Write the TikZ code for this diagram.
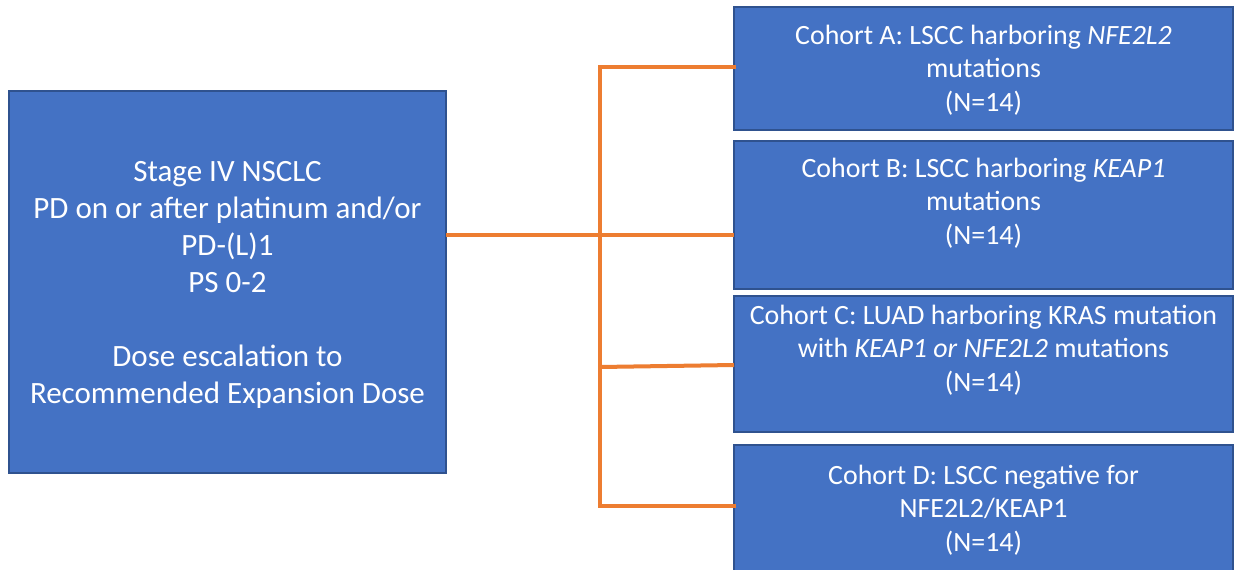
\documentclass[tikz,border=0pt]{standalone}
\usepackage{fontspec}
\setmainfont{Carlito}
\definecolor{boxblue}{HTML}{4472C4}
\definecolor{boxedge}{HTML}{2F528F}
\definecolor{conn}{HTML}{ED7D31}
\begin{document}
\begin{tikzpicture}[x=1pt,y=-1pt,
  box/.style={draw=boxedge, line width=1.5pt, fill=boxblue, inner sep=0pt, outer sep=0pt},
  txt/.style={text=white, align=center, inner sep=0pt, font=\fontsize{27.9}{33.5}\selectfont},
  bigtxt/.style={text=white, align=center, inner sep=0pt, font=\fontsize{31}{37}\selectfont},
  link/.style={draw=conn, line width=4pt}]
\useasboundingbox (0,0) rectangle (1235,570);
\clip (0,0) rectangle (1235,570);
\fill[white] (0,0) rectangle (1235,570);
% boxes
\node[box, minimum width=437pt, minimum height=382pt] (L) at (227.5,282) {};
\node[box, minimum width=499pt, minimum height=123pt] (A) at (983.5,68.5) {};
\node[box, minimum width=499pt, minimum height=148pt] (B) at (983.5,215) {};
\node[box, minimum width=499pt, minimum height=136pt] (C) at (983.5,364) {};
\node[box, minimum width=499pt, minimum height=135pt] (D) at (983.5,512.5) {};
% texts
\node[bigtxt] (Lt) at (227.5,285) {Stage IV NSCLC\\PD on or after platinum and/or\\PD-(L)1\\PS 0-2\\[37pt]Dose escalation to\\Recommended Expansion Dose};
\node[txt] (At) at (983.5,70) {Cohort A: LSCC harboring \textit{NFE2L2}\\mutations\\(N=14)};
\node[txt] (Bt) at (983.5,203) {Cohort B: LSCC harboring \textit{KEAP1}\\mutations\\(N=14)};
\node[txt] (Ct) at (983.5,350) {Cohort C: LUAD harboring KRAS mutation\\with \textit{KEAP1 or NFE2L2} mutations\\(N=14)};
\node[txt] (Dt) at (983.5,510) {Cohort D: LSCC negative for\\NFE2L2/KEAP1\\(N=14)};
% connectors
\coordinate (jA) at (600,67);
\coordinate (jB) at (600,235);
\coordinate (jC) at (600,367);
\coordinate (jD) at (600,506);
\draw[link] (L.east |- jB) -- (jB -| B.west);
\draw[link, line cap=rect] (jA -| A.west) -- (jA) -- (jD) -- (jD -| D.west);
\draw[link] (jC) -- ([yshift=2pt]jC -| C.west);
\end{tikzpicture}
\end{document}
